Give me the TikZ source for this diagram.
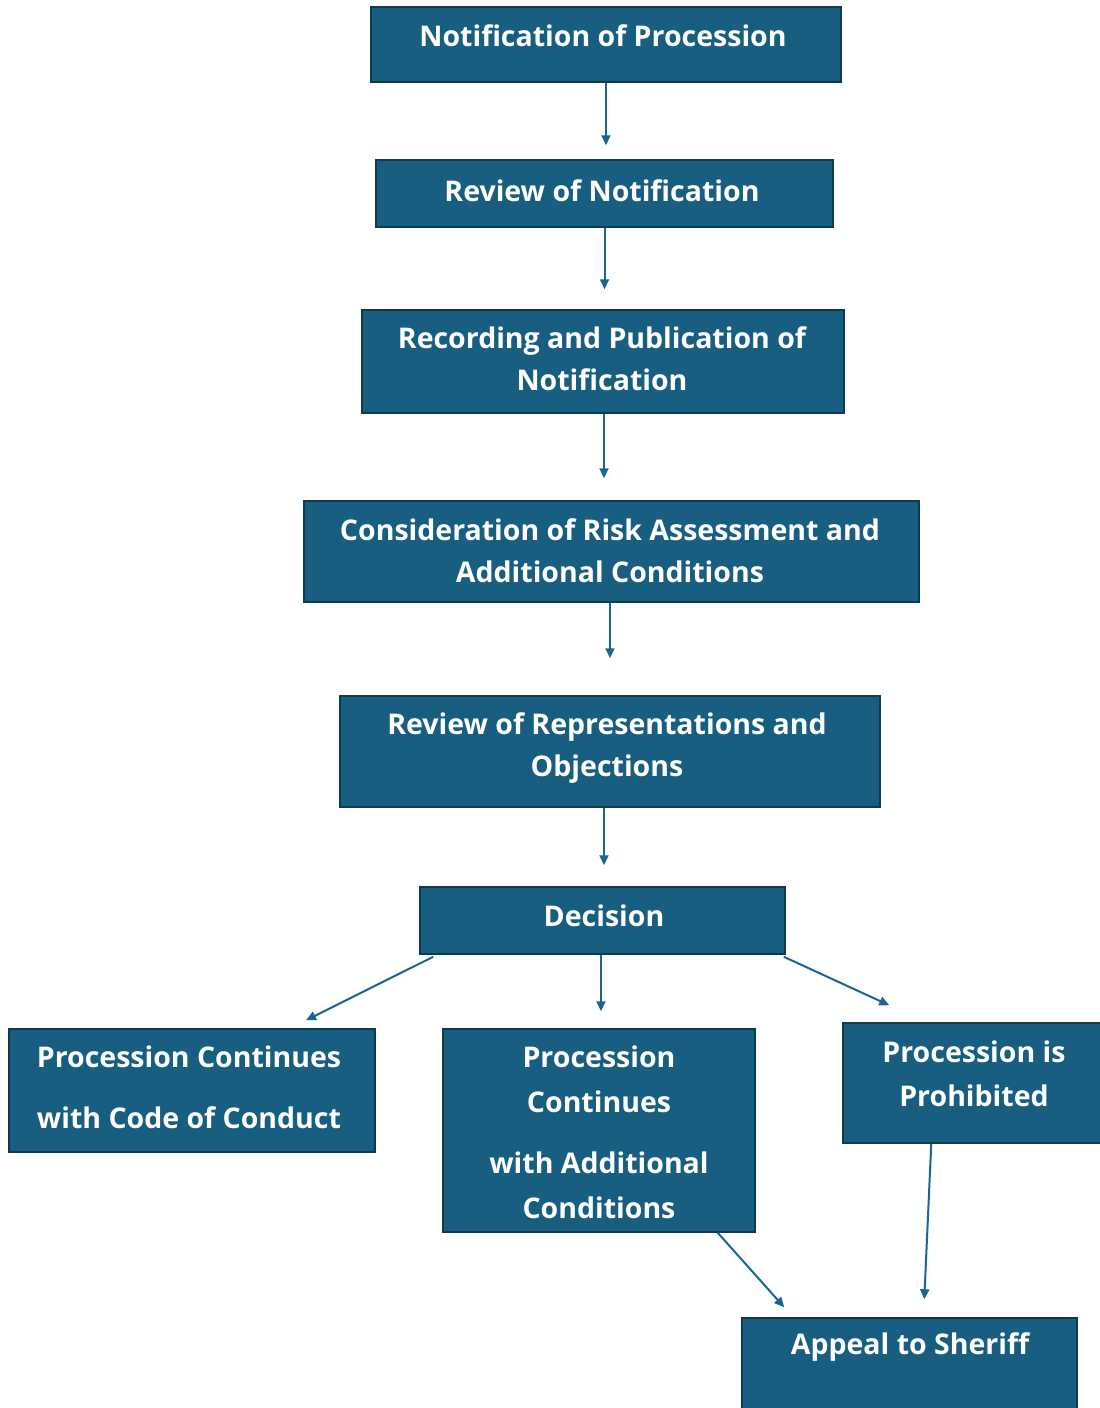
\documentclass[tikz,border=0pt]{standalone}
\usepackage{fontspec}
\setmainfont{Open Sans}
\usetikzlibrary{calc,arrows.meta}
\definecolor{boxfill}{HTML}{175E80}
\definecolor{boxline}{HTML}{0E3A4F}
\definecolor{arrowc}{HTML}{1B6690}
\begin{document}
\begin{tikzpicture}[x=1pt,y=-1pt,
  box/.style={draw=boxline, line width=1.5pt, fill=boxfill, rectangle, inner sep=0pt},
  txt/.style={text=white, font=\bfseries\fontsize{28.5}{42}\selectfont, align=center, inner sep=0pt},
  conn/.style={draw=arrowc, line width=2pt, -{Triangle[length=10pt,width=9pt]}}]
\useasboundingbox (0,0) rectangle (1100,1408);
\clip (0,0) rectangle (1100,1408);
\fill[white] (0,0) rectangle (1100,1408);
% boxes
\node[box, minimum width=470, minimum height=75] (n1) at (606,44.5) {};
\node[box, minimum width=457, minimum height=67] (n2) at (604.5,193.5) {};
\node[box, minimum width=482, minimum height=103] (n3) at (603,361.5) {};
\node[box, minimum width=615, minimum height=101] (n4) at (611.5,551.5) {};
\node[box, minimum width=540, minimum height=111] (n5) at (610,751.5) {};
\node[box, minimum width=365, minimum height=67] (n6) at (602.5,920.5) {};
\node[box, minimum width=366, minimum height=123] (n7) at (192,1090.5) {};
\node[box, minimum width=312, minimum height=203] (n8) at (599,1130.5) {};
\node[box, minimum width=262, minimum height=120] (n9) at (974,1083) {};
\node[box, minimum width=335, minimum height=100] (n10) at (909.5,1368) {};
% texts
\node[txt] (t1) at (603,36) {Notification of Procession};
\node[txt] (t2) at (602,191) {Review of Notification};
\node[txt] (t3) at (602,359) {Recording and Publication of\\Notification};
\node[txt] (t4) at (610,551) {Consideration of Risk Assessment and\\Additional Conditions};
\node[txt] (t5) at (607,748) {Review of Representations and\\Objections};
\node[txt] (t6) at (604,916) {Decision};
\node[txt] (t7) at (189,1087.5) {Procession Continues\\[19pt]with Code of Conduct};
\node[txt] (t8) at (599,1132.5) {Procession\\[3pt]Continues\\[19pt]with Additional\\[3pt]Conditions};
\node[txt] (t9) at (974,1074) {Procession is\\[2pt]Prohibited};
\node[txt] (t10) at (910,1347) {Appeal to Sheriff};
% connectors
\draw[conn] (n1.south) -- ($(n1.south |- n2.north)+(0,-14)$);
\draw[conn] (n2.south) -- ($(n2.south |- n3.north)+(0,-20)$);
\draw[conn] ($(n3.south)+(1,0)$) -- ($(n3.south |- n4.north)+(1,-22)$);
\draw[conn] ($(n4.south)+(-1.5,0)$) -- ($(n4.south |- n5.north)+(-1.5,-37)$);
\draw[conn] ($(n5.south)+(-6,0)$) -- ($(n6.north)+(1.5,-21)$);
\draw[conn] ($(n6.south)+(-1.5,0)$) -- ($(n8.north)+(2,-17)$);
\draw[conn] ($(n6.south west)+(14,2)$) -- ($(n7.north)+(114,-8)$);
\draw[conn] ($(n6.south east)+(-2,2)$) -- ($(n9.north west)+(47,-17)$);
\draw[conn] ($(n8.south east)+(-38,0)$) -- ($(n10.north west)+(43,-10)$);
\draw[conn] ($(n9.south west)+(89,0)$) -- ($(n10.north west)+(183,-18)$);
\end{tikzpicture}
\end{document}
